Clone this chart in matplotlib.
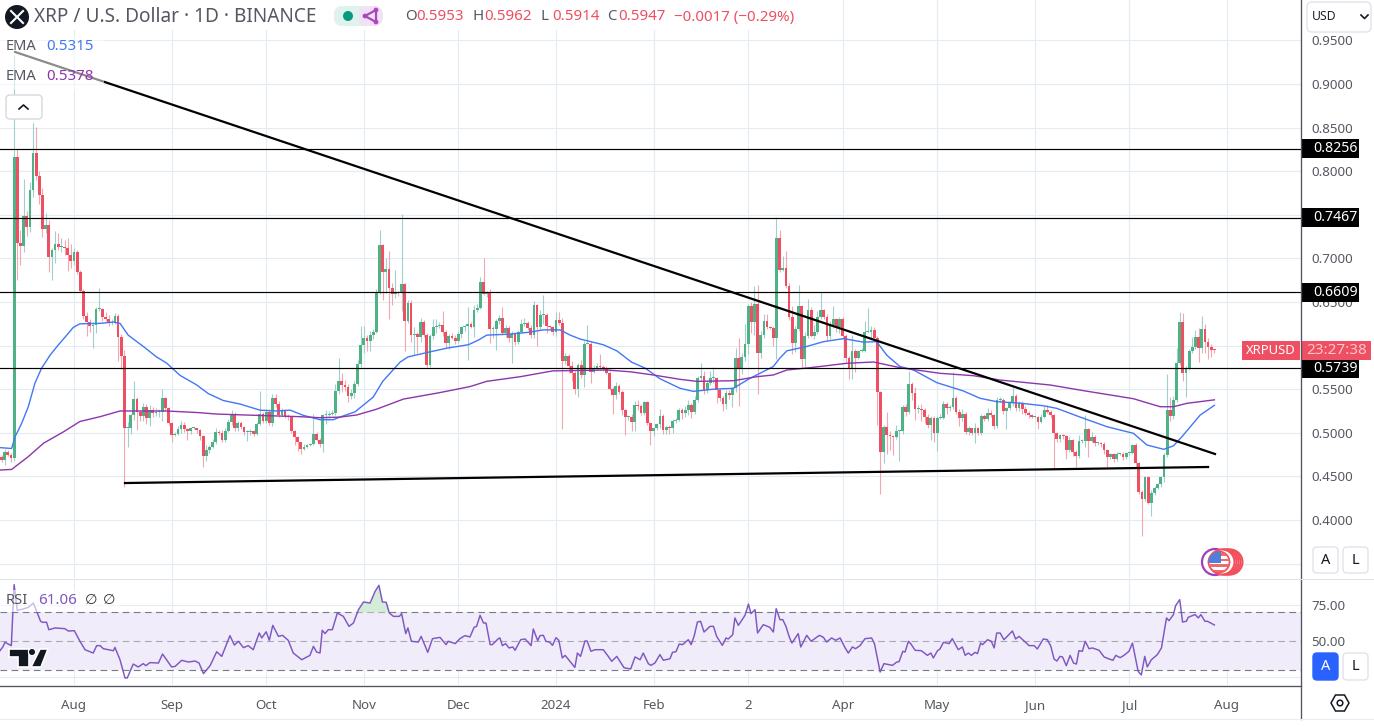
import matplotlib
matplotlib.use("Agg")
import matplotlib.pyplot as plt
from matplotlib.patches import Circle, FancyBboxPatch, Polygon, Rectangle
import numpy as np

plt.rcParams["font.family"] = ["Noto Sans", "DejaVu Sans"]

# daily closes, first bar is 23 days before 1 Aug 2023
first_day = -23
first_open = 0.472
closes = [
    .469, .478, .475, .471, .816, .718, .714, .749, .736, .778,
    .821, .795, .773, .734, .738, .702, .710, .717, .713, .713,
    .712, .704, .697, .707, .684, .663, .634, .627, .622, .624,
    .642, .642, .633, .631, .626, .626, .634, .610, .588, .505,
    .505, .520, .539, .524, .519, .530, .517, .526, .523, .524,
    .524, .540, .528, .511, .497, .499, .504, .509, .504, .502,
    .505, .505, .503, .496, .473, .480, .484, .489, .501, .500,
    .492, .502, .512, .522, .505, .511, .507, .501, .501, .502,
    .499, .510, .522, .514, .524, .511, .540, .533, .520, .525,
    .519, .518, .502, .495, .489, .481, .484, .486, .487, .499,
    .492, .487, .520, .520, .522, .523, .548, .559, .555, .552,
    .542, .546, .556, .579, .601, .609, .605, .612, .616, .660,
    .715, .684, .688, .666, .659, .661, .660, .671, .628, .649,
    .612, .613, .610, .627, .612, .578, .611, .621, .622, .624,
    .616, .603, .611, .609, .605, .613, .621, .622, .625, .621,
    .641, .643, .673, .659, .660, .619, .619, .628, .632, .614,
    .620, .609, .613, .604, .616, .625, .626, .620, .612, .647,
    .621, .635, .635, .622, .621, .616, .629, .626, .582, .588,
    .577, .569, .550, .578, .566, .602, .602, .570, .574, .577,
    .575, .574, .569, .550, .543, .554, .547, .526, .518, .518,
    .512, .532, .531, .523, .535, .511, .502, .505, .510, .519,
    .503, .507, .505, .514, .515, .526, .523, .526, .532, .524,
    .538, .563, .565, .549, .557, .563, .563, .549, .540, .533,
    .546, .543, .551, .586, .574, .587, .602, .645, .627, .648,
    .591, .612, .628, .621, .620, .609, .723, .687, .689, .668,
    .633, .603, .619, .645, .585, .611, .641, .611, .616, .633,
    .641, .633, .611, .624, .630, .621, .630, .611, .586, .573,
    .594, .586, .594, .594, .616, .616, .618, .609, .547, .478,
    .507, .497, .496, .495, .502, .502, .530, .524, .556, .546,
    .527, .527, .526, .518, .509, .517, .500, .517, .517, .533,
    .528, .530, .540, .524, .517, .522, .501, .505, .500, .505,
    .500, .519, .516, .523, .520, .508, .538, .538, .525, .528,
    .534, .542, .528, .534, .527, .523, .520, .518, .518, .512,
    .518, .526, .524, .520, .500, .493, .497, .496, .480, .492,
    .478, .473, .491, .491, .504, .491, .495, .488, .488, .487,
    .480, .472, .476, .470, .476, .476, .472, .477, .477, .486,
    .465, .432, .424, .449, .420, .431, .437, .441, .449, .475,
    .526, .519, .538, .580, .627, .569, .574, .594, .598, .610,
    .597, .619, .604, .598, .5953, .5947,
]

# wick lengths above / below the body, in thousandths of a dollar
wick_up = [
    3, 3, 2, 2, 117, 10, 14, 42, 5, 10,
    34, 30, 5, 8, 14, 6, 2, 14, 12, 10,
    8, 11, 12, 5, 3, 3, 2, 5, 4, 3,
    2, 24, 1, 5, 4, 4, 3, 2, 3, 7,
    7, 2, 20, 2, 2, 4, 3, 6, 4, 4,
    3, 10, 1, 2, 1, 2, 4, 4, 3, 1,
    2, 2, 1, 1, 1, 6, 2, 4, 4, 2,
    3, 3, 4, 4, 2, 2, 2, 1, 2, 2,
    1, 2, 26, 2, 3, 3, 5, 5, 3, 3,
    2, 2, 1, 1, 1, 1, 3, 1, 1, 22,
    2, 2, 1, 6, 3, 3, 8, 27, 10, 5,
    4, 4, 3, 5, 22, 13, 3, 5, 3, 5,
    17, 1, 13, 20, 6, 26, 2, 80, 1, 3,
    3, 8, 3, 5, 2, 3, 2, 10, 8, 3,
    16, 2, 2, 3, 3, 4, 2, 2, 19, 2,
    5, 5, 6, 28, 3, 5, 3, 3, 3, 12,
    4, 3, 4, 2, 2, 5, 6, 2, 4, 4,
    1, 6, 23, 2, 2, 2, 9, 10, 6, 4,
    2, 5, 2, 2, 5, 3, 22, 3, 4, 3,
    13, 3, 3, 2, 3, 4, 2, 2, 1, 2,
    3, 4, 6, 2, 1, 2, 1, 1, 1, 8,
    2, 1, 2, 2, 2, 3, 3, 5, 6, 2,
    4, 2, 15, 6, 3, 8, 13, 1, 2, 2,
    3, 3, 2, 11, 23, 5, 23, 3, 5, 20,
    22, 5, 8, 8, 2, 3, 25, 9, 14, 20,
    4, 12, 3, 24, 2, 5, 13, 3, 8, 7,
    20, 1, 3, 4, 15, 2, 3, 3, 2, 2,
    18, 2, 1, 3, 12, 27, 4, 3, 2, 1,
    2, 17, 5, 2, 7, 1, 2, 3, 15, 2,
    7, 5, 6, 3, 3, 2, 2, 2, 4, 3,
    2, 2, 30, 2, 3, 5, 2, 3, 1, 6,
    2, 3, 3, 5, 3, 2, 3, 3, 2, 2,
    3, 10, 2, 3, 3, 4, 2, 1, 1, 1,
    3, 5, 6, 2, 1, 1, 2, 2, 2, 3,
    1, 2, 7, 2, 16, 2, 6, 2, 2, 2,
    2, 1, 1, 1, 2, 1, 2, 1, 2, 1,
    2, 1, 2, 1, 1, 3, 2, 2, 2, 2,
    41, 15, 4, 17, 12, 10, 3, 2, 12, 8,
    10, 15, 6, 5, 4, 1,
]
wick_down = [
    2, 6, 2, 4, 3, 43, 22, 7, 10, 6,
    8, 5, 11, 10, 5, 18, 27, 15, 3, 6,
    8, 19, 8, 5, 2, 2, 3, 16, 6, 25,
    10, 2, 5, 3, 3, 2, 1, 28, 15, 67,
    21, 6, 5, 21, 5, 5, 7, 9, 5, 4,
    6, 10, 3, 2, 8, 1, 1, 4, 3, 10,
    3, 1, 3, 4, 12, 5, 3, 2, 2, 2,
    2, 2, 1, 3, 3, 3, 3, 3, 10, 3,
    3, 2, 1, 3, 3, 2, 3, 3, 2, 1,
    2, 3, 2, 9, 10, 5, 1, 1, 1, 1,
    1, 3, 9, 10, 3, 2, 3, 3, 8, 4,
    7, 3, 6, 2, 4, 9, 11, 11, 4, 1,
    1, 32, 24, 36, 12, 4, 3, 20, 34, 2,
    8, 23, 19, 6, 2, 3, 2, 4, 6, 2,
    5, 6, 7, 2, 3, 2, 4, 4, 38, 1,
    11, 2, 1, 1, 3, 16, 10, 24, 3, 2,
    4, 5, 29, 3, 2, 2, 2, 2, 3, 3,
    21, 3, 10, 8, 3, 4, 5, 2, 78, 3,
    8, 10, 5, 9, 3, 14, 0, 13, 1, 2,
    3, 3, 1, 1, 21, 4, 3, 6, 21, 3,
    10, 10, 5, 3, 3, 2, 16, 6, 2, 5,
    4, 4, 6, 5, 3, 2, 7, 5, 6, 7,
    2, 3, 3, 5, 3, 2, 6, 15, 3, 8,
    6, 4, 13, 4, 43, 7, 5, 12, 13, 15,
    46, 5, 3, 2, 1, 10, 24, 3, 2, 2,
    4, 13, 10, 2, 10, 10, 2, 1, 3, 3,
    2, 3, 5, 4, 4, 5, 6, 3, 5, 11,
    11, 16, 1, 1, 1, 2, 10, 2, 38, 48,
    13, 21, 16, 20, 2, 34, 3, 5, 3, 8,
    12, 4, 12, 7, 3, 17, 11, 21, 1, 1,
    7, 3, 3, 3, 9, 3, 2, 3, 3, 12,
    3, 2, 3, 2, 2, 4, 3, 3, 3, 21,
    2, 3, 3, 3, 5, 3, 3, 1, 1, 8,
    1, 1, 1, 3, 42, 4, 3, 3, 10, 2,
    5, 12, 2, 3, 7, 19, 2, 3, 2, 3,
    4, 11, 2, 3, 2, 2, 3, 2, 2, 1,
    4, 2, 42, 2, 2, 15, 2, 2, 3, 5,
    3, 5, 3, 3, 2, 10, 28, 2, 3, 2,
    16, 5, 13, 13, 8, 3,
]

ema50_days = [-23.5, -19.8, -18.7, -16.6, -14.5, -12.4, -10.3, -7.6, -5, -2.3, -0.2, 1.9, 8.3, 12.5, 14.6, 17.2, 22, 26.2,
              29.4, 33.6, 38.9, 42.6, 47.4, 52.7, 59, 64.3, 68.6, 72.8, 78.1, 82.3, 84.4, 89.2, 95, 98, 103.5, 106, 112,
              118.3, 125.2, 128.4, 131, 137.4, 143.7, 149, 154.3, 157.5, 160.7, 168, 172.3, 177, 181.4, 186, 192.4,
              196.6, 203, 209.3, 214.6, 222, 224, 226.3, 232.6, 237.9, 244.3, 250.6, 254.8, 258, 262.2, 266.5, 273.9,
              282.3, 287.6, 292.9, 300.3, 307.8, 312, 319.4, 327.9, 336.3, 340.6, 345.9, 349, 351.7, 357.5, 362]
ema50_vals = [.483, .482, .4955, .511, .530, .557, .574, .589, .6007, .612, .621, .625, .6255, .627, .6255, .612, .599, .587,
              .580, .566, .555, .545, .537, .533, .526, .525, .526, .520, .515, .515, .518, .524, .541, .559, .581, .587, .592,
              .597, .601, .6064, .612, .613, .615, .618, .618, .612, .6075, .601, .594, .581, .574, .562, .551,
              .5475, .550, .551, .5625, .576, .5854, .594, .599, .6045, .608, .604, .6045, .589, .576, .572, .5575,
              .548, .5396, .5357, .534, .531, .528, .518, .507, .4994, .486, .4811, .485, .4955, .5204, .5315]

ema200_days = [-23.5, -19.8, -14.5, -9.7, -3.4, 1.9, 8.3, 14.6, 29.4, 38.9, 45.3, 58, 71.7, 78.1, 84.4, 89.7, 96, 104.6, 116,
               125.7, 131, 141.6, 152, 169, 176.5, 183.9, 192.4, 197.7, 209.3, 216.7, 222, 226.3, 234.7, 245.3, 253.8,
               262.2, 275, 285.5, 294, 309.9, 320.5, 336.3, 344.8, 349, 353.3, 362]
ema200_vals = [.4573, .458, .4727, .488, .501, .513, .5185, .525, .525, .5233, .5215, .520, .5185, .5173, .518, .5204, .527, .5387, .546,
               .553, .559, .5643, .571, .5720, .570, .5663, .5613, .559, .5597, .5643, .5663, .572, .5751, .5797, .5812,
               .5747, .5682, .5655, .5605, .5548, .5483, .5391, .5299, .5299, .5338, .5378]

rsi_days = [-23.5, -22.6, -21.9, -19.9, -19.0, -18.0, -16.1, -14.5, -12.9, -10.6, -10.0, -8.7, -8.0, -6.0, -2.9, -1.8, 0.1, 1.9,
            3.5, 6.1, 7.2, 8.3, 9.3, 12.5, 13.0, 14.6, 16.2, 16.9, 18.8, 20.4, 22.0, 22.8, 24.1, 26.8, 28.1, 31.0, 32.1, 34.2,
            36.3, 38.4, 39.7, 41.1, 43.2, 45.3, 46.9, 49.5, 50.9, 52.2, 53.8, 55.3, 56.9, 58.8, 59.6, 61.0, 62.0, 63.1, 64.9,
            66.2, 68.0, 69.6, 72.3, 74.9, 76.0, 77.0, 78.1, 78.8, 79.7, 80.7, 82.0, 83.6, 85.5, 87.3, 88.7, 90.3, 91.9, 94.0,
            95.6, 96.8, 97.9, 99.1, 100.1, 101.4, 103.3, 104.0, 105.3, 106.0, 107.1, 109.3, 110.2, 112.3, 113.8, 116.2, 118.1,
            118.8, 121.0, 122.5, 124.1, 125.7, 127.0, 127.8, 128.9, 130.0, 130.8, 132.1, 132.8, 134.7, 135.2, 136.0, 137.0,
            138.1, 139.3, 140.0, 141.8, 143.2, 145.1, 145.8, 147.2, 147.9, 149.0, 149.8, 150.9, 151.9, 153.0, 153.9, 155.0,
            155.9, 159.0, 159.8, 160.8, 162.2, 162.9, 164.1, 165.4, 168.0, 169.6, 170.7, 172.3, 174.6, 176.7, 178.1, 179.7,
            180.7, 182.3, 183.1, 184.4, 186.0, 187.1, 189.2, 190.0, 191.1, 192.1, 193.2, 195.0, 195.9, 196.9, 197.9, 198.9,
            200.0, 201.9, 203.0, 204.0, 205.8, 207.0, 207.7, 209.1, 209.8, 210.9, 213.0, 214.1, 214.9, 216.2, 217.0, 218.8,
            220.9, 222.0, 222.9, 224.1, 225.0, 226.0, 227.1, 227.9, 229.9, 230.7, 232.6, 234.0, 236.6, 237.9, 238.9, 240.5,
            241.8, 243.2, 244.8, 245.8, 247.1, 248.1, 249.5, 251.1, 253.2, 254.1, 255.9, 257.1, 259.8, 261.2, 261.9, 263.1,
            263.8, 264.9, 265.6, 267.0, 269.0, 270.9, 272.0, 272.8, 274.1, 274.9, 276.0, 277.8, 278.8, 280.7, 282.0, 282.9,
            283.9, 284.9, 286.0, 286.8, 287.8, 288.4, 290.0, 291.2, 292.1, 292.9, 294.0, 295.2, 297.9, 298.9, 300.0, 303.2,
            304.8, 305.8, 307.7, 309.0, 310.1, 311.1, 312.0, 313.0, 313.8, 315.0, 316.2, 317.3, 318.2, 319.0, 320.1, 321.0,
            322.2, 323.3, 325.4, 327.0, 328.6, 329.8, 330.7, 332.1, 333.3, 334.9, 336.0, 337.8, 338.8, 339.9, 340.7, 342.0,
            343.9, 345.2, 346.8, 347.6, 349.0, 349.7, 351.0, 351.9, 353.1, 353.7, 355.0, 355.9, 356.9, 357.7, 359.0, 359.8,
            362.0]
rsi_vals = [43.3, 45.9, 49.1, 46.8, 88.9, 71.1, 72.1, 73.2, 76.2, 63.6, 62.9, 62.9, 57.8, 59.0, 58.5, 56.9, 57.1, 49.8,
            44.0, 41.7, 46.8, 46.8, 44.7, 43.3, 45.6, 37.1, 24.5, 24.5, 34.1, 32.1, 34.4, 33.0, 35.1, 34.8, 41.0, 32.1, 32.5, 36.7,
            35.5, 36.2, 34.8, 27.5, 33.0, 42.6, 39.4, 53.7, 47.2, 49.8, 45.4, 46.8, 44.0, 55.5, 52.1, 56.4, 50.5, 60.8, 53.2,
            53.9, 50.5, 41.7, 37.1, 40.1, 46.3, 42.4, 41.7, 57.4, 55.1, 57.8, 57.8, 69.3, 67.0, 60.1, 62.4, 71.6, 76.9, 76.2,
            84.3, 88.4, 76.9, 76.7, 69.3, 67.0, 67.0, 68.9, 55.1, 59.0, 49.8, 49.3, 53.2, 42.2, 51.6, 52.5, 47.5,
            49.8, 48.2, 51.6, 53.7, 52.8, 59.4, 60.1, 67.7, 62.4, 62.4, 47.5, 47.5, 51.6, 52.1, 46.8, 48.2,
            45.2, 45.9, 43.6, 50.9, 51.4, 46.8, 58.3, 50.2, 53.7, 53.9, 49.8, 49.3, 47.0, 52.3, 50.5, 38.3,
            40.1, 31.8, 41.7, 39.4, 50.0, 50.0, 42.9, 44.0, 44.0, 39.4, 36.0, 39.4, 31.6, 30.7, 39.0, 37.1,
            41.7, 34.4, 33.2, 34.8, 40.6, 36.7, 37.8, 42.2, 42.6, 47.9, 47.5, 50.9, 47.5, 53.7, 63.1, 63.6,
            56.2, 60.1, 60.1, 53.2, 47.0, 52.1, 51.4, 54.4, 65.9, 60.8, 67.7, 75.5, 68.9, 71.6, 55.5, 61.3,
            59.4, 56.2, 72.3, 64.7, 64.7, 60.1, 52.5, 48.6, 55.1, 45.9, 53.9, 49.8, 53.9, 52.5, 49.3, 52.1,
            50.5, 52.1, 45.2, 41.7, 45.9, 44.7, 46.8, 51.6, 52.1, 48.2, 28.6, 34.4, 33.2, 35.5, 35.7, 42.9,
            42.4, 49.8, 48.2, 43.6, 43.3, 40.1, 41.7, 38.3, 43.3, 44.5, 49.1, 48.2, 51.6, 44.0, 45.9, 40.1,
            41.7, 40.1, 42.2, 41.3, 48.6, 47.5, 50.9, 49.8, 45.2, 55.5, 55.5, 50.9, 56.9, 51.4, 53.2, 46.8,
            46.8, 44.5, 51.4, 50.9, 46.3, 37.6, 36.2, 39.4, 39.0, 33.0, 40.1, 34.8, 34.1, 43.3, 42.9, 49.8,
            44.7, 45.2, 43.6, 39.0, 37.6, 36.7, 40.1, 38.5, 40.1, 42.9, 48.6, 29.1, 26.6, 39.4, 32.1, 37.1,
            40.6, 45.2, 65.9, 64.0, 68.2, 74.4, 78.5, 63.1, 63.6, 66.3, 67.5, 68.2, 65.9, 68.2, 63.6, 63.6,
            61.06]

levels = [0.8256, 0.7467, 0.6609, 0.5739]
price_ticks = [0.35, 0.40, 0.45, 0.50, 0.55, 0.60, 0.65, 0.70, 0.75, 0.80, 0.85, 0.90, 0.95]
month_days = [0, 31, 61, 92, 122, 153, 184, 214, 244, 274, 305, 335, 366]
month_labels = ["Aug", "Sep", "Oct", "Nov", "Dec", "2024", "Feb", "2", "Apr", "May", "Jun", "Jul", "Aug"]
resistance_days = [-18.7, 362.2]
resistance_vals = [0.9367, 0.4757]
support_days = [16.2, 360]
support_vals = [0.4424, 0.4608]

GRID = "#e3ecf3"
GREEN = "#4fb286"
RED = "#ee4f62"
TEXT = "#555861"
PURPLE = "#7e57c2"

W, H = 1374, 727
fig = plt.figure(figsize=(W / 100, H / 100), dpi=100)


def pane(x0, y0, x1, y1):
    return fig.add_axes([x0 / W, 1 - y1 / H, (x1 - x0) / W, (y1 - y0) / H])


ax = pane(0, 0, 1301, 578)
rs = pane(0, 579, 1301, 685)

closes = np.array(closes)
opens = np.concatenate(([first_open], closes[:-1]))
days = np.arange(first_day, first_day + len(closes))
highs = np.maximum(opens, closes) + np.array(wick_up) / 1000
lows = np.minimum(opens, closes) - np.array(wick_down) / 1000
up = closes >= opens

xlim = (-23.49, 389.5)
ax.set_xlim(*xlim)
ax.set_ylim(0.3335, 0.9963)
rs.set_xlim(*xlim)
rs.set_ylim(19.66, 92.76)

for a in (ax, rs):
    a.set_xticks(month_days)
    a.grid(True, color=GRID, linewidth=0.8)
    a.set_axisbelow(True)
    for s in a.spines.values():
        s.set_visible(False)
    a.yaxis.tick_right()
    a.tick_params(axis="both", length=0, labelsize=9.6, labelcolor=TEXT)
    a.tick_params(axis="y", pad=7.5)

ax.set_yticks(price_ticks)
ax.set_yticklabels([""] + [f"{p:.4f}" for p in price_ticks[1:]])
ax.tick_params(labelbottom=False)

# candles
ax.vlines(days[up], lows[up], highs[up], color="#a2cfcc", linewidth=0.8, zorder=2)
ax.vlines(days[~up], lows[~up], highs[~up], color="#f5a5b0", linewidth=0.8, zorder=2)
body = np.maximum(np.abs(closes - opens), 0.0012)
bottom = np.minimum(opens, closes)
ax.bar(days[up], body[up], bottom=bottom[up], width=0.88, color=GREEN, linewidth=0, zorder=3)
ax.bar(days[~up], body[~up], bottom=bottom[~up], width=0.88, color=RED, linewidth=0, zorder=3)

ax.plot(ema50_days, ema50_vals, color="#4277f5", linewidth=1.0, zorder=4)
ax.plot(ema200_days, ema200_vals, color="#8e35ab", linewidth=1.0, zorder=4)

for lvl in levels:
    ax.axhline(lvl, color="black", linewidth=0.85, zorder=5)
    ax.add_patch(Rectangle((1.0, lvl - 0.0109), 58 / 1301, 0.0218, transform=ax.get_yaxis_transform(),
                           fc="black", ec="none", clip_on=False, zorder=7))
    ax.text(1 + 12 / 1301, lvl, f"{lvl:.4f}", transform=ax.get_yaxis_transform(), color="white", fontsize=10.2,
            fontweight="bold", va="center", ha="left", zorder=8, clip_on=False)
ax.plot(resistance_days, resistance_vals, color="black", linewidth=1.6, zorder=5)
ax.plot(support_days, support_vals, color="black", linewidth=1.6, zorder=5)

# RSI pane
rsi_days = np.array(rsi_days)
rsi_vals = np.array(rsi_vals)
rs.set_yticks([25, 50, 75])
rs.set_yticklabels(["", "50.00", "75.00"])
rs.axhspan(30, 70, color="#f0ecf9", linewidth=0, zorder=1)
for v, c in ((70, "#787b86"), (50, "#a9a7b5"), (30, "#787b86")):
    rs.axhline(v, color=c, linewidth=0.8, linestyle=(0, (6, 4)), zorder=2)
rs.fill_between(rsi_days, 70, rsi_vals, where=(rsi_vals > 70) & (rsi_days > 88) & (rsi_days < 100), interpolate=True,
                color="#d5ecd9", linewidth=0, zorder=2)
rs.plot(rsi_days, rsi_vals, color=PURPLE, linewidth=1.05, zorder=3)
rs.set_xticklabels(month_labels)
rs.tick_params(axis="x", pad=10)
rs.get_xticklabels()[5].set_fontweight("bold")

# furniture drawn in pixel coordinates on a clear overlay
ov = fig.add_axes([0, 0, 1, 1], zorder=10)
ov.set_xlim(0, W)
ov.set_ylim(H, 0)
ov.axis("off")


def box(x0, y0, x1, y1, fc="white", ec="#e0e3eb", r=4, lw=1.0, alpha=None):
    ov.add_patch(FancyBboxPatch((x0 + r, y0 + r), x1 - x0 - 2 * r, y1 - y0 - 2 * r, boxstyle=f"round,pad={r},rounding_size={r}",
                                fc=fc, ec=ec, lw=lw, alpha=alpha, mutation_aspect=1))


def rect(x0, y0, x1, y1, fc="white", alpha=None):
    p = Rectangle((x0, y0), x1 - x0, y1 - y0, fc=fc, ec="none", alpha=alpha)
    ov.add_patch(p)
    return p


def txt(x, y, s, color=TEXT, size=9.6, **kw):
    ov.text(x, y, s, color=color, fontsize=size, va="center", ha=kw.pop("ha", "left"), **kw)


# axis lines
rect(0, 0, 800, 30)
rect(1302, 0, W, 32)
ov.plot([1301, 1301], [0, 719], color="#50535e", lw=0.95)
ov.plot([0, 1301], [685.5, 685.5], color="#50535e", lw=0.95)
ov.plot([0, W], [719, 719], color="#e9edf2", lw=0.8)
ov.plot([0, W], [579, 579], color="#e0e3eb", lw=0.8)

# header
ov.add_patch(Circle((17, 17), 12, fc="#131722", ec="none"))
ov.plot([11, 23], [11, 23], color="white", lw=1.5)
ov.plot([11, 23], [23, 11], color="white", lw=1.5)
txt(34, 17, "XRP / U.S. Dollar · 1D · BINANCE", color="#555861", size=13.7)
box(334, 6, 383, 26, fc="#f1e2f6", ec="none", r=9)
box(334, 6, 372, 26, fc="#dff3ee", ec="none", r=9)
rect(359, 6, 372, 26, fc="#f1e2f6")
ov.add_patch(Circle((348, 16), 5, fc="#089981", ec="none"))
ov.plot([376, 365, 376], [10, 16, 22], color="#ab47bc", lw=1.6)
ov.plot([376, 376], [10, 22], color="#ab47bc", lw=1.6)
for px, py in ((376, 10), (365, 16), (376, 22)):
    ov.add_patch(Circle((px, py), 2.4, fc="#ab47bc", ec="none"))
header_x = [405, 473, 541, 607]
header_key = ["O", "H", "L", "C"]
header_val = ["0.5953", "0.5962", "0.5914", "0.5947"]
for hx, k, v in zip(header_x, header_key, header_val):
    txt(hx, 17, k, color=TEXT, size=10.8)
    txt(hx + 11.5, 17, v, color=RED, size=10.9)
txt(674, 17, "−0.0017 (−0.29%)", color=RED, size=10.9)

# legends
rect(0, 36, 104, 90, alpha=0.55)
txt(6, 47, "EMA", size=10.6)
txt(46, 47, "0.5315", color="#4277f5", size=10.9)
txt(6, 77, "EMA", size=10.6)
txt(46, 77, "0.5378", color="#8e35ab", size=10.9)
box(6, 95, 42, 119, ec="#d7d9e0")
ov.plot([19, 23.5, 28], [109, 105, 109], color="#131722", lw=1.2)

rect(0, 590, 120, 612, alpha=0.6)
txt(6, 600, "RSI", size=10.6)
txt(38, 600, "61.06", color=PURPLE, size=10.9)
txt(85, 600, "∅", color="#333", size=10.4)
txt(103, 600, "∅", color="#333", size=10.4)

# logo
logo_bar = [(9, 649), (29, 649), (29, 667), (18, 667), (18, 657), (9, 657)]
logo_slash = [(40, 649), (48, 649), (41, 667), (31, 667)]
for pts in (logo_bar, logo_slash):
    ov.add_patch(Polygon(pts, closed=True, fc="#131722", ec="white", lw=1.2))
ov.add_patch(Circle((32, 652), 3.6, fc="#131722", ec="white", lw=0.8))

# right hand controls
box(1307, 2, 1371, 32, ec="#e0e3eb", r=5)
txt(1312, 16, "USD", color="#20222b", size=8.8)
ov.plot([1361, 1364.5, 1368], [15, 18.5, 15], color="#131722", lw=1.2)

rect(1242, 341, 1300, 360, fc=RED)
txt(1271, 350.5, "XRPUSD", color="white", size=9.4, ha="center")
rect(1301, 341, 1371, 360, fc=RED)
txt(1336.5, 350.5, "23:27:38", color="#ffc7cc", size=11, ha="center")

box(1313, 547, 1338, 573, ec="#e0e3eb", r=4)
txt(1325.5, 560, "A", color="#131722", size=10.5, ha="center")
box(1343, 547, 1368, 573, ec="#e0e3eb", r=4)
txt(1355.5, 560, "L", color="#131722", size=10.5, ha="center")
box(1313, 653, 1338, 680, fc="#2962ff", ec="#2962ff", r=4)
txt(1325.5, 666.5, "A", color="white", size=10.5, ha="center", fontweight="bold")
box(1343, 653, 1368, 680, ec="#e0e3eb", r=4)
txt(1355.5, 666.5, "L", color="#131722", size=10.5, ha="center")

# flag badge
ov.add_patch(Circle((1215, 562), 13, fc="white", ec="#9c3fc0", lw=1.6))
for cx in (1230, 1228, 1226, 1224, 1222):
    ov.add_patch(Circle((cx, 562), 12.5, fc="white", ec="#f2505c", lw=1.5))
flag = Circle((1219, 562), 10.5, fc="white", ec="#f2505c", lw=1.3)
ov.add_patch(flag)
for sy in (553, 558.5, 564, 569.5):
    rect(1207, sy, 1231, sy + 2.8, fc="#ef6a6a").set_clip_path(flag)
rect(1207, 551, 1221, 563, fc="#4f7fd9").set_clip_path(flag)

# settings hexagon
hex_pts = [(1331, 703), (1335.5, 695), (1344.5, 695), (1349, 703), (1344.5, 711), (1335.5, 711)]
ov.add_patch(Polygon(hex_pts, closed=True, fc="none", ec="#131722", lw=1.1))
ov.add_patch(Circle((1340, 703), 2.8, fc="none", ec="#131722", lw=1.1))

fig.savefig("out.png", dpi=100)
